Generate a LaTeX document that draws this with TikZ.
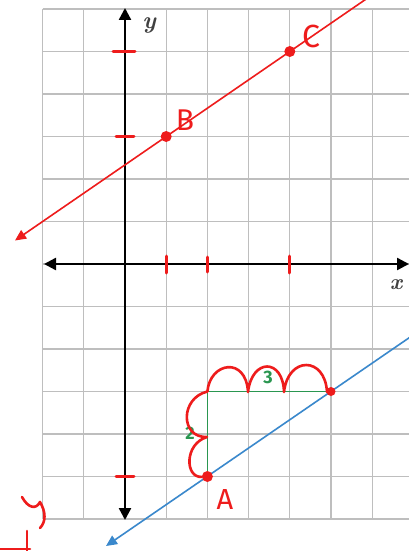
\documentclass[tikz,border=0pt]{standalone}
\usepackage{fontspec}
\setsansfont{Fira Sans}
\newfontfamily\handfont{Fira Sans}
\usetikzlibrary{arrows.meta}
\definecolor{gridgray}{HTML}{BEBEBE}
\definecolor{pen}{HTML}{EE1C1C}
\definecolor{bluel}{HTML}{3A88CC}
\definecolor{greenl}{HTML}{2A9650}
\tikzset{
  gridline/.style={gridgray, line width=1.1pt},
  axis/.style={black, line width=2.4pt, {Triangle[length=12pt,width=12pt]}-{Triangle[length=12pt,width=12pt]}},
  redtick/.style={pen, line width=3pt, line cap=round},
  dot/.style={circle, fill=pen, inner sep=0pt, minimum size=#1},
  redline/.style={pen, line width=1.6pt},
  blueline/.style={bluel, line width=1.6pt},
  greenline/.style={greenl, line width=1.8pt},
  scallop/.style={pen, line width=2.6pt, line cap=round, line join=round},
  hand/.style={pen, font=\handfont\fontsize{#1}{#1}\selectfont, inner sep=0pt},
  num/.style={greenl, font=\handfont\bfseries\fontsize{18}{18}\selectfont, inner sep=0pt},
  axlab/.style={text=black!75, font=\rmfamily\itshape\bfseries\fontsize{#1}{#1}\selectfont, inner sep=0pt},
}
\begin{document}
\begin{tikzpicture}[x=1pt,y=-1pt]
\useasboundingbox (0,0) rectangle (409,551);
\fill[white] (0,0) rectangle (409,551);
\begin{scope}
\clip (0,0) rectangle (409,551);
% grid
\foreach \i in {-2,...,6} {
  \draw[gridline] ({125+41.2*\i},9) -- ({125+41.2*\i},519);
}
\foreach \j in {-6,...,6} {
  \draw[gridline] (42.6,{264-42.5*\j}) -- (409,{264-42.5*\j});
}
% axes
\coordinate (yb) at (125,520);
\coordinate (yt) at (125,8);
\coordinate (xl) at (44,264);
\coordinate (xr) at (409,264);
\draw[axis] (yb) -- (yt);
\draw[axis] (xl) -- (xr);
\node[axlab=24] (ylab) at (149,26) {y};
\node[axlab=22] (xlab) at (396,285) {x};
% red ticks
\draw[redtick] (113,51.5) -- (135,51.5);
\draw[redtick] (116,136.5) -- (134,136.5);
\draw[redtick] (116,476.5) -- (134,476.5);
\draw[redtick] (166.2,256) -- (166.2,273);
\draw[redtick] (207.4,257) -- (207.4,272);
\draw[redtick] (289.8,256) -- (289.8,273);
% red line
\coordinate (rl) at (15,240.5);
\coordinate (ru) at (380,-10.5);
\draw[redline, {Triangle[length=11pt,width=10pt]}-] (rl) -- (ru);
\node[dot=11pt] (B) at (166.2,136.5) {};
\node[dot=11pt] (C) at (289.8,51.5) {};
\node[hand=30] (Blab) at (185,120) {B};
\node[hand=32] (Clab) at (311,36) {C};
% blue line
\coordinate (bl) at (106,546);
\coordinate (bu) at (420,330.3);
\draw[blueline, {Triangle[length=11pt,width=10pt]}-] (bl) -- (bu);
% green legs
\coordinate (K) at (207.4,391.5);
\node[dot=11pt] (A) at (207.4,476.5) {};
\node[dot=9pt] (D) at (331,391.5) {};
\draw[greenline] (K) -- (D);
\draw[greenline] (K) -- (A);
\node[hand=29] (Alab) at (225,500) {A};
\node[num] (three) at (268,377) {3};
\node[num] (two) at (190,433) {2};
% scallops
\draw[scallop] (K) .. controls (210,362) and (246,356) .. (248,392)
  .. controls (252,358) and (283,358) .. (284,392)
  .. controls (288,356) and (325,356) .. (327,392);
\draw[scallop] (K) .. controls (180,398) and (180,438) .. (207,437)
  .. controls (184,444) and (185,478) .. (A);
% bottom-left handwriting
\draw[scallop] (22,497) .. controls (28,508) and (36,510) .. (40,502)
  .. controls (46,512) and (46,522) .. (40,528);
\draw[scallop] (27,531) -- (27,551);
\draw[scallop] (0,549) -- (30,549);
\end{scope}
\end{tikzpicture}
\end{document}
